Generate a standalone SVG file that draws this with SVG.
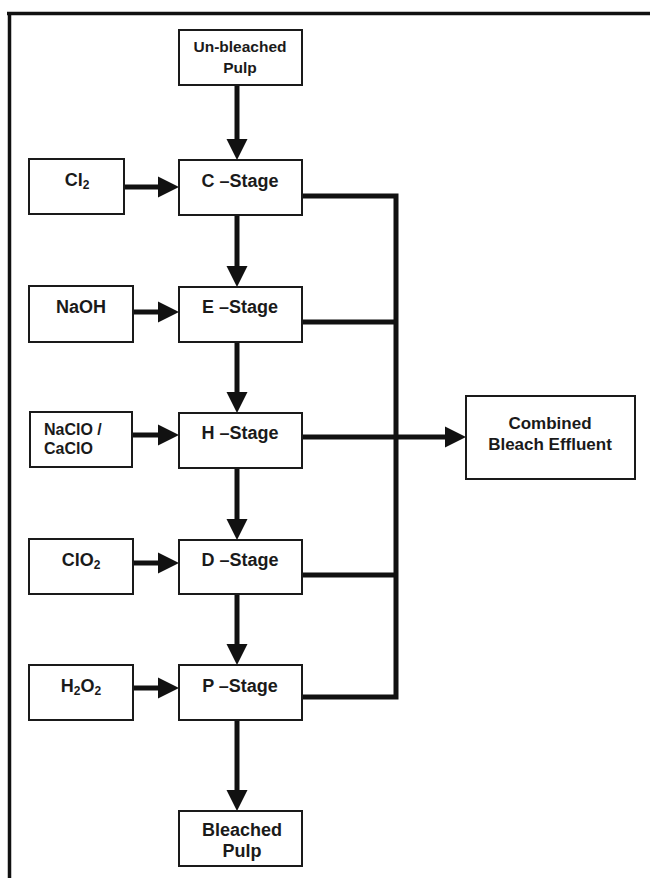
<svg xmlns="http://www.w3.org/2000/svg" width="650" height="878" viewBox="0 0 650 878">
<style>
.box{fill:#fff;stroke:#1a1a1a;stroke-width:2}
.t{font-family:"Liberation Sans",Arial,sans-serif;font-weight:bold;fill:#1a1a1a;text-anchor:middle}
.st{font-size:18px}
.l{text-anchor:start}
.c{fill:none;stroke:#111;stroke-width:5}
</style>
<defs>
<marker id="ah" markerUnits="userSpaceOnUse" markerWidth="21" markerHeight="22" refX="10" refY="10.5" orient="auto" viewBox="0 0 21 21">
<path d="M0,0 L21,10.5 L0,21 z" fill="#111"/>
</marker>
</defs>
<rect width="650" height="878" fill="#fff"/>
<path d="M7 13.5 H650 M9.5 12 V878" fill="none" stroke="#111" stroke-width="3.5"/>

<g id="connectors">
<path class="c" d="M237 86 V149" marker-end="url(#ah)"/>
<path class="c" d="M237 216 V276" marker-end="url(#ah)"/>
<path class="c" d="M237 343 V402" marker-end="url(#ah)"/>
<path class="c" d="M237 469 V529" marker-end="url(#ah)"/>
<path class="c" d="M237 595 V654" marker-end="url(#ah)"/>
<path class="c" d="M237 721 V800" marker-end="url(#ah)"/>
<path class="c" d="M125 187 H168" marker-end="url(#ah)"/>
<path class="c" d="M134 312 H168" marker-end="url(#ah)"/>
<path class="c" d="M133 435 H168" marker-end="url(#ah)"/>
<path class="c" d="M134 563 H168" marker-end="url(#ah)"/>
<path class="c" d="M134 688 H168" marker-end="url(#ah)"/>
<path class="c" d="M303 437 H455" marker-end="url(#ah)"/>
<path class="c" d="M303 196 H396 V697 H303 M303 322 H396 M303 575 H396"/>
</g>

<g id="unbleached">
<rect class="box" x="179" y="30" width="123" height="55"/>
<text class="t" x="240" y="52" font-size="15.5">Un-bleached</text>
<text class="t" x="240" y="73" font-size="15.5">Pulp</text>
</g>
<g id="cstage">
<rect class="box" x="179" y="160" width="123" height="55"/>
<text class="t st" x="240" y="187">C –Stage</text>
</g>
<g id="estage">
<rect class="box" x="179" y="287" width="123" height="55"/>
<text class="t st" x="240" y="313">E –Stage</text>
</g>
<g id="hstage">
<rect class="box" x="179" y="413" width="123" height="55"/>
<text class="t st" x="240" y="439">H –Stage</text>
</g>
<g id="dstage">
<rect class="box" x="179" y="540" width="123" height="54"/>
<text class="t st" x="240" y="566">D –Stage</text>
</g>
<g id="pstage">
<rect class="box" x="179" y="665" width="123" height="55"/>
<text class="t st" x="240" y="692">P –Stage</text>
</g>
<g id="bleached">
<rect class="box" x="179" y="811" width="123" height="55"/>
<text class="t st" x="242" y="836">Bleached</text>
<text class="t st" x="242" y="857">Pulp</text>
</g>
<g id="cl2">
<rect class="box" x="29" y="159" width="95" height="55"/>
<text class="t st" x="77" y="186">Cl<tspan font-size="12" dy="3">2</tspan></text>
</g>
<g id="naoh">
<rect class="box" x="29" y="286" width="104" height="56"/>
<text class="t st" x="81" y="313">NaOH</text>
</g>
<g id="naclo">
<rect class="box" x="30" y="412" width="102" height="55"/>
<text class="t l" x="44" y="435" font-size="16">NaClO /</text>
<text class="t l" x="44" y="454" font-size="16">CaClO</text>
</g>
<g id="clo2">
<rect class="box" x="29" y="539" width="104" height="55"/>
<text class="t st" x="81" y="566">ClO<tspan font-size="12" dy="3">2</tspan></text>
</g>
<g id="h2o2">
<rect class="box" x="29" y="665" width="104" height="55"/>
<text class="t st" x="81" y="692">H<tspan font-size="12" dy="3">2</tspan><tspan dy="-3">O</tspan><tspan font-size="12" dy="3">2</tspan></text>
</g>
<g id="combined">
<rect class="box" x="466" y="396" width="169" height="83"/>
<text class="t" x="550" y="429" font-size="17">Combined</text>
<text class="t" x="550" y="450" font-size="17">Bleach Effluent</text>
</g>
</svg>
